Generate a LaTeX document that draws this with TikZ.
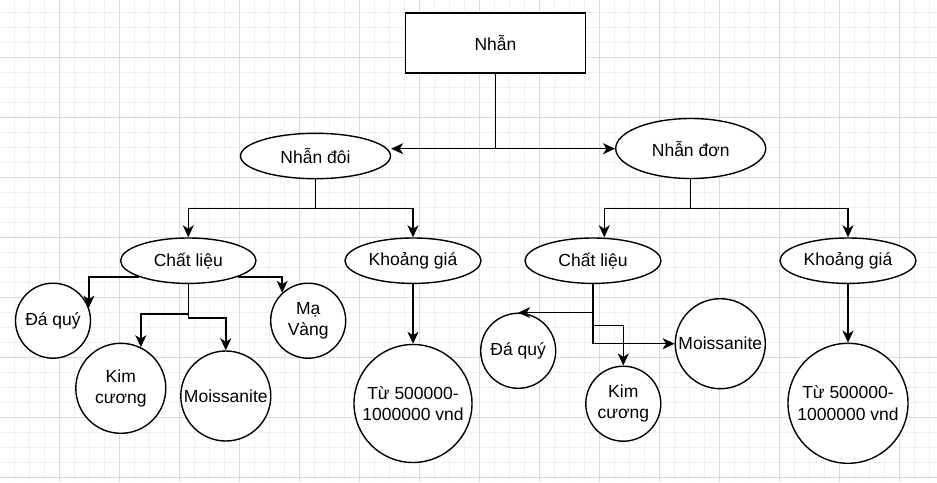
\documentclass[tikz,border=0pt]{standalone}
\usepackage{fontspec}
\setmainfont{Liberation Sans}
\usetikzlibrary{shapes.geometric,arrows.meta}
\definecolor{gridmaj}{HTML}{DADADA}
\definecolor{gridmin}{HTML}{F1F1F1}
\begin{document}
\begin{tikzpicture}[x=1pt,y=-1pt,
  every node/.style={font=\fontsize{17.5}{21.5}\selectfont, text=black, inner sep=0pt, align=center},
  box/.style={draw, line width=1.4pt, fill=white, rectangle, minimum width=180pt, minimum height=60pt},
  ell/.style={draw, line width=1.4pt, fill=white, ellipse},
  circ/.style={draw, line width=1.4pt, fill=white, circle},
  conn/.style={line width=1.4pt},
  arr/.style={line width=1.4pt, -{Stealth[length=12pt,width=11pt,inset=3.5pt]}}]
\useasboundingbox (0,0) rectangle (937,482);
\fill[white] (0,0) rectangle (937,482);
% grid
\foreach \x in {14.5,29.5,...,937} \draw[gridmin, line width=0.9pt] (\x,0) -- (\x,482);
\foreach \y in {12.5,27.5,...,482} \draw[gridmin, line width=0.9pt] (0,\y) -- (937,\y);
\foreach \x in {59.5,119.5,...,937} \draw[gridmaj, line width=0.9pt] (\x,0) -- (\x,482);
\foreach \y in {57.5,117.5,...,482} \draw[gridmaj, line width=0.9pt] (0,\y) -- (937,\y);

% nodes
\node[box] (n0) at (495.5,43) {Nhẫn};
\node[ell, minimum width=150pt, minimum height=45.4pt] (nd) at (315.5,156) {Nhẫn đôi};
\node[ell, minimum width=150pt, minimum height=60pt] (ndn) at (690.7,148.5) {Nhẫn đơn};
\node[ell, minimum width=135.4pt, minimum height=45.4pt] (cl1) at (188.3,260.7) {Chất liệu};
\node[ell, minimum width=136pt, minimum height=45.4pt] (kg1) at (413,260.7) {Khoảng giá};
\node[ell, minimum width=136pt, minimum height=45.4pt] (cl2) at (593,260.7) {Chất liệu};
\node[ell, minimum width=136pt, minimum height=45.4pt] (kg2) at (848,260.7) {Khoảng giá};

\node[circ, minimum size=75pt] (dq1) at (53,320.7) {Đá quý};
\node[circ, minimum size=75pt] (mv1) at (308.2,320.7) {Mạ\\Vàng};
\node[circ, minimum size=90pt] (km1) at (120.8,388.3) {Kim\\cương};
\node[circ, minimum size=90pt] (ms1) at (225.8,396) {Moissanite};
\node[circ, minimum size=118pt] (tu1) at (413,403.5) {Từ 500000-\\1000000 vnd};

\node[circ, minimum size=75pt] (dq2) at (518.2,350.8) {Đá quý};
\node[circ, minimum size=75pt] (km2) at (623.3,403.7) {Kim\\cương};
\node[circ, minimum size=90pt] (ms2) at (720.3,343.7) {Moissanite};
\node[circ, minimum size=120pt] (tu2) at (848,403.3) {Từ 500000-\\1000000 vnd};

% connectors
\coordinate (j0) at (495.5,148.7);
\draw[conn] (n0.south) -- (j0);
\draw[arr] (j0) -- (j0 -| nd.east);
\draw[arr] (j0) -- (j0 -| ndn.west);

\coordinate (j1) at (315.5,208.7);
\draw[conn] (nd.south) -- (j1);
\draw[arr] (j1) -| (cl1.north);
\draw[arr] (j1) -| (kg1.north);

\coordinate (j2) at (690.7,208.7);
\draw[conn] (ndn.south) -- (j2);
\draw[arr] (j2) -| ([xshift=11.3pt]cl2.north);
\draw[arr] (j2) -| (kg2.north);

\draw[arr] (cl1.198) -| (dq1.20);
\draw[arr] (cl1.342) -| (mv1.133);
\draw[arr] (cl1.south) -- ++(0,30) -| (km1.64);
\draw[arr] (cl1.south) -- ++(0,34) -| (ms1.north);
\draw[arr] (kg1.south) -- (tu1.north);

\draw[arr] (cl2.south) |- (dq2.north);
\draw[arr] (cl2.south) -- ++(0,41.6) -| (km2.north);
\draw[arr] (cl2.south) |- (ms2.west);
\draw[arr] (kg2.south) -- (tu2.north);
\end{tikzpicture}
\end{document}
